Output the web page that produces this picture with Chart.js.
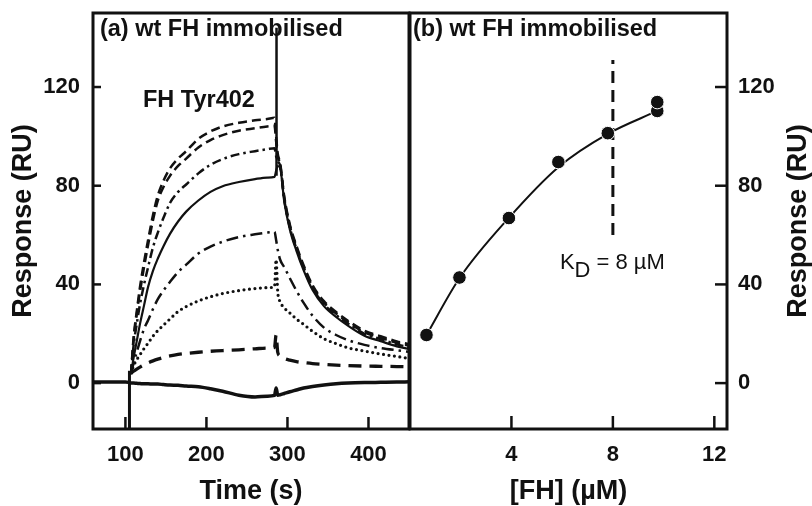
<!DOCTYPE html>
<html>
<head>
<meta charset="utf-8">
<script src="https://cdn.jsdelivr.net/npm/chart.js@4.4.1/dist/chart.umd.min.js"></script>
<style>
  html, body { margin: 0; background: #fff; }
  #wrap { position: relative; width: 812px; height: 506px; }
  #wrap canvas { position: absolute; left: 0; top: 0; }
</style>
</head>
<body>
<div id="wrap">
  <canvas id="panel-a" width="812" height="506"></canvas>
  <canvas id="panel-b" width="812" height="506"></canvas>
</div>
<script>
  // ---- panel (a): sensorgrams of FH Tyr402 flowing over immobilised wt FH
  const timeS = [60, 100, 104, 107, 110, 114, 118, 123, 128, 134, 140, 147, 155, 165, 175, 190, 205, 220, 240, 260,
                 275, 284, 286, 288, 291, 296, 303, 311, 320, 331, 345, 360, 375, 395, 415, 435, 450];
  const respBuffer = [0.4, 0.4, 0.3, 0, 0, -0.1, -0.2, -0.3, -0.3, -0.4, -0.4, -0.6, -0.8, -0.9, -1.2, -1.5, -2.3, -3.3, -4.9, -5.6,
                      -5.3, -5, -2, -4.9, -4.7, -4.2, -3.5, -2.8, -2, -1.4, -0.8, -0.3, 0, 0.2, 0.3, 0.4, 0.5];
  const respLongDash = [null, null, null, 4, 4.8, 5.7, 6.5, 7.4, 8.2, 9, 9.7, 10.4, 11, 11.6, 12, 12.5, 12.9, 13.2, 13.5, 13.9,
                        14.2, 14.5, 19.5, 12.5, 11, 10, 9.3, 8.7, 8.3, 7.9, 7.6, 7.3, 7.1, 6.9, 6.8, 6.7, 6.6];
  const respDotted = [null, null, null, 4, 7, 9.5, 11.5, 14, 16.2, 19, 21.3, 23.5, 26, 29, 31, 33.3, 35, 36.3, 37.5, 38.3,
                      38.7, 39, 50, 37, 33, 30.5, 28.4, 26, 23.8, 21, 18, 16, 14.3, 13, 11.8, 10.8, 10];
  const respDashDot = [null, null, null, 4, 8, 12.5, 17, 22, 25.5, 30, 34, 37.5, 41, 45, 48, 52.5, 55.3, 57.3, 59.2, 60.3,
                       61, 61.3, 58, 54, 50, 47, 42.5, 37.5, 32.5, 27.3, 22.5, 19.5, 17.4, 15.5, 14.2, 13.3, 12.7];
  const respSolid = [null, null, null, 4, 10, 17, 24, 31.5, 39, 45.5, 50.5, 55.5, 60.5, 65.5, 69.5, 74, 77.5, 79.8, 81.5, 82.7,
                     83.3, 83.6, 86, 88, 87.2, 73.7, 62.2, 53.7, 45.7, 37.7, 31.2, 26.8, 23.2, 19.2, 17, 14.9, 13.8];
  const respDashDot2 = [null, null, null, 4, 15, 24, 32, 40, 47, 55, 61, 67, 73, 77.5, 80.5, 85, 88.5, 90.8, 92.8, 94,
                        94.8, 95.2, 92, 90, 88, 74.5, 63, 54.5, 46.5, 38.5, 32, 27.6, 24, 20, 17.8, 15.7, 14.6];
  const respDashA = [null, null, null, 4, 17, 28, 37, 47, 56, 66, 74, 79.5, 84, 88, 91, 95.5, 98.5, 100.5, 102.3, 103.3,
                     104, 104.3, 98, 92, 88.6, 75.1, 63.6, 55.1, 47.1, 39.1, 32.6, 28.2, 24.6, 20.6, 18.4, 16.3, 15.2];
  const respDashB = [null, null, null, 4, 18, 29, 39, 49, 58, 68, 76, 82, 87, 91, 94, 99, 102, 104, 105.5, 106.5,
                     107, 107.5, 100, 93, 89.2, 75.7, 64.2, 55.7, 47.7, 39.7, 33.2, 28.8, 25.2, 21.2, 19, 16.9, 15.8];
  // injection and end-of-injection artefacts
  const injectT = [105, 105];
  const injectR = [-25, 5];
  const washT = [286.5, 286.5];
  const washR = [144, 84];

  const timeTicks = [100, 200, 300, 400];
  const respTicks = [0, 20, 40, 60, 80, 100, 120, 140];
  const respLabels = [0, 40, 80, 120];

  // ---- panel (b): equilibrium response vs concentration
  const fhConc = [0.65, 1.95, 3.9, 5.85, 7.8, 9.75, 9.75];
  const fhResp = [19.5, 42.8, 66.9, 89.6, 101.3, 110.3, 113.9];
  const fitConc = [0.65, 1.95, 3.9, 5.85, 7.8, 9.75];
  const fitResp = [19.5, 42.5, 67, 87.5, 101, 110.3];
  const kdConc = [8, 8];
  const kdResp = [60, 131];

  const concTicks = [2, 4, 6, 8, 10, 12];
  const concLabels = [4, 8, 12];

  const INK = '#111';
  const FONT = "'Liberation Sans', Arial, Helvetica, sans-serif";
  const tickFont = { family: FONT, size: 22, weight: 'bold' };
  const titleFont = { family: FONT, size: 27, weight: 'bold', lineHeight: 1 };

  const pts = (xs, ys) => xs.map((x, i) => ({ x, y: ys[i] }));

  function curve(vals, width, dash, cap) {
    return {
      data: pts(timeS, vals), borderColor: INK, borderWidth: width, borderDash: dash || [],
      borderCapStyle: cap || 'butt', pointRadius: 0, cubicInterpolationMode: 'monotone', fill: false
    };
  }

  // inward tick marks + box frame, drawn off the library's own scales
  function framePlugin(cfg) {
    return {
      id: 'frame',
      afterDraw(chart) {
        const { ctx, chartArea: a } = chart;
        const xs = chart.scales.x, ys = chart.scales.y;
        ctx.save();
        ctx.strokeStyle = INK;
        ctx.lineWidth = 2.5;
        xs.ticks.forEach(t => {
          const px = xs.getPixelForValue(t.value);
          const len = cfg.xMajor.includes(t.value) ? cfg.xLong : cfg.xShort;
          ctx.beginPath(); ctx.moveTo(px, a.bottom); ctx.lineTo(px, a.bottom - len); ctx.stroke();
        });
        const onRight = ys.position === 'right';
        ys.ticks.forEach(t => {
          const py = ys.getPixelForValue(t.value);
          const len = cfg.yMajor.includes(t.value) ? cfg.yLong : cfg.yShort;
          const x0 = onRight ? a.right : a.left;
          ctx.beginPath(); ctx.moveTo(x0, py); ctx.lineTo(x0 + (onRight ? -len : len), py); ctx.stroke();
        });
        ctx.lineWidth = 3;
        ctx.strokeRect(a.left, a.top, a.right - a.left, a.bottom - a.top);
        ctx.restore();
      }
    };
  }

  // text notes placed in data coordinates
  function notesPlugin(items) {
    return {
      id: 'notes',
      afterDraw(chart) {
        const { ctx } = chart;
        const xs = chart.scales.x, ys = chart.scales.y;
        ctx.save();
        ctx.fillStyle = INK;
        ctx.textBaseline = 'alphabetic';
        ctx.textAlign = 'left';
        items.forEach(it => {
          let x = xs.getPixelForValue(it.x);
          const y = ys.getPixelForValue(it.y);
          (it.runs || [{ text: it.text }]).forEach(r => {
            ctx.font = `${it.weight || 'bold'} ${it.size}px ${FONT}`;
            ctx.fillText(r.text, x, y + (r.dy || 0));
            x += ctx.measureText(r.text).width;
          });
        });
        ctx.restore();
      }
    };
  }

  // right-hand axis title, reading bottom to top like the left one
  const rightTitle = {
    id: 'rightTitle',
    afterDraw(chart) {
      const { ctx, chartArea: a } = chart;
      ctx.save();
      ctx.translate(chart.scales.y.right - 13, (a.top + a.bottom) / 2);
      ctx.rotate(-Math.PI / 2);
      ctx.font = `bold 27px ${FONT}`;
      ctx.fillStyle = INK;
      ctx.textAlign = 'center';
      ctx.textBaseline = 'middle';
      ctx.fillText('Response (RU)', 0, 0);
      ctx.restore();
    }
  };

  const common = {
    responsive: false,
    animation: false,
    devicePixelRatio: 1,
    plugins: { legend: { display: false }, tooltip: { enabled: false } },
  };

  function yScale(position, width, pad, title) {
    return {
      type: 'linear', position, min: -18.6, max: 150,
      afterBuildTicks: s => { s.ticks = respTicks.map(v => ({ value: v })); },
      afterFit: s => { s.width = width; s.paddingTop = 0; s.paddingBottom = 0; },
      grid: { display: false, drawTicks: false },
      border: { display: false },
      ticks: {
        font: tickFont, color: INK, padding: pad, autoSkip: false,
        callback: v => respLabels.includes(v) ? String(v) : null
      },
      title: title ? { display: true, text: title, font: titleFont, color: INK, padding: { top: 10.5, bottom: 0 } } : { display: false }
    };
  }

  function xScale(min, max, ticks, labels, title) {
    return {
      type: 'linear', min, max,
      afterBuildTicks: s => { s.ticks = ticks.map(v => ({ value: v })); },
      afterFit: s => { s.height = 77; s.paddingLeft = 0; s.paddingRight = 0; },
      grid: { display: false, drawTicks: false },
      border: { display: false },
      ticks: {
        font: tickFont, color: INK, padding: 13, maxRotation: 0, autoSkip: false,
        callback: v => labels.includes(v) ? String(v) : null
      },
      title: { display: true, text: title, font: titleFont, color: INK, padding: { top: 0, bottom: 0.5 } }
    };
  }

  new Chart(document.getElementById('panel-a'), {
    type: 'line',
    data: {
      datasets: [
        { data: pts(washT, washR), borderColor: INK, borderWidth: 2.5, pointRadius: 0 },
        { data: pts(injectT, injectR), borderColor: INK, borderWidth: 3, pointRadius: 0 },
        curve(respDashB, 2.5, [9, 5]),
        curve(respDashA, 2.5, [9, 5]),
        curve(respDashDot2, 2.5, [9, 4, 2.5, 4]),
        curve(respSolid, 2.2),
        curve(respDashDot, 2.5, [12, 5, 2.5, 5]),
        curve(respDotted, 3.2, [0, 5.5], 'round'),
        curve(respLongDash, 3.3, [13, 8]),
        curve(respBuffer, 3.5),
      ]
    },
    options: {
      ...common,
      layout: { padding: { left: 0, top: 13, right: 403, bottom: 0 } },
      scales: {
        x: xScale(60, 450, timeTicks, timeTicks, 'Time (s)'),
        y: yScale('left', 93, 13, 'Response (RU)')
      }
    },
    plugins: [
      framePlugin({ xMajor: timeTicks, xLong: 12, xShort: 12, yMajor: respLabels, yLong: 8, yShort: 8 }),
      notesPlugin([
        { text: '(a) wt FH immobilised', x: 68.5, y: 140.7, size: 23.5 },
        { text: 'FH Tyr402', x: 121.7, y: 111.9, size: 23.5 },
      ])
    ]
  });

  new Chart(document.getElementById('panel-b'), {
    type: 'line',
    data: {
      datasets: [
        { type: 'scatter', data: pts(fhConc, fhResp), showLine: false, pointRadius: 6.8,
          pointBackgroundColor: INK, pointBorderColor: '#fff', pointBorderWidth: 1 },
        { data: pts(fitConc, fitResp), borderColor: INK, borderWidth: 2, pointRadius: 0, cubicInterpolationMode: 'monotone' },
        { data: pts(kdConc, kdResp), borderColor: INK, borderWidth: 3, borderDash: [12, 7], pointRadius: 0 },
      ]
    },
    options: {
      ...common,
      layout: { padding: { left: 410, top: 13, right: 0, bottom: 0 } },
      scales: {
        x: xScale(0, 12.5, concTicks, concLabels, '[FH] (\u00b5M)'),
        y: yScale('right', 85, 11, null)
      }
    },
    plugins: [
      framePlugin({ xMajor: concLabels, xLong: 13, xShort: 9, yMajor: respLabels, yLong: 12, yShort: 8 }),
      notesPlugin([
        { text: '(b) wt FH immobilised', x: 0.12, y: 140.5, size: 23.5 },
        { x: 5.91, y: 46.2, size: 22, weight: 'normal',
          runs: [{ text: 'K' }, { text: 'D', dy: 8 }, { text: ' = 8 \u00b5M' }] },
      ]),
      rightTitle
    ]
  });
</script>
</body>
</html>
